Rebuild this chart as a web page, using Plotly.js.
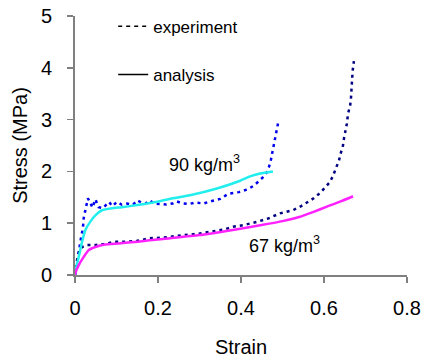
<!DOCTYPE html>
<html>
<head>
<meta charset="utf-8">
<script src="https://cdn.plot.ly/plotly-3.0.1.min.js"></script>
<style>html,body{margin:0;padding:0;background:#fff;}#chart{width:425px;height:363px;}</style>
</head>
<body>
<div id="chart"></div>
<script>
// 90 kg/m3 experiment
var exp90X = [0,0.003,0.007,0.010,0.015,0.019,0.021,0.025,0.031,0.036,0.042,0.049,0.057,0.067,0.075,0.082,0.090,0.101,0.112,0.125,0.140,0.150,0.160,0.170,0.181,0.190,0.205,0.220,0.235,0.245,0.260,0.275,0.290,0.310,0.330,0.350,0.370,0.395,0.415,0.430,0.440,0.452,0.462,0.468,0.472,0.476,0.479,0.482,0.486,0.490];
var exp90Y = [0,0.16,0.35,0.54,0.74,0.90,1.10,1.25,1.48,1.41,1.30,1.46,1.31,1.29,1.35,1.41,1.33,1.41,1.36,1.38,1.36,1.44,1.40,1.38,1.44,1.38,1.37,1.36,1.38,1.42,1.38,1.37,1.40,1.38,1.43,1.47,1.57,1.60,1.65,1.72,1.79,1.88,1.98,2.10,2.22,2.40,2.52,2.62,2.80,2.96];
// 90 kg/m3 analysis
var ana90X = [0,0.001,0.005,0.009,0.017,0.025,0.037,0.049,0.065,0.089,0.113,0.150,0.181,0.230,0.277,0.342,0.398,0.420,0.446,0.477];
var ana90Y = [0,0.06,0.22,0.35,0.64,0.87,1.03,1.15,1.25,1.29,1.31,1.35,1.39,1.47,1.54,1.67,1.82,1.90,1.96,2.00];
// 67 kg/m3 experiment
var exp67X = [0,0.002,0.005,0.010,0.017,0.029,0.050,0.070,0.096,0.120,0.150,0.180,0.210,0.240,0.270,0.300,0.330,0.360,0.380,0.410,0.440,0.465,0.494,0.525,0.545,0.559,0.575,0.590,0.605,0.614,0.622,0.629,0.636,0.641,0.645,0.648,0.652,0.655,0.658,0.663,0.665,0.666,0.668,0.669,0.672];
var exp67Y = [0,0.12,0.29,0.45,0.54,0.58,0.58,0.60,0.64,0.64,0.66,0.71,0.72,0.75,0.77,0.80,0.84,0.88,0.93,0.97,1.03,1.09,1.19,1.25,1.33,1.40,1.48,1.58,1.70,1.79,1.92,2.07,2.21,2.37,2.46,2.63,2.79,2.92,3.12,3.27,3.42,3.62,3.79,3.94,4.13];
// 67 kg/m3 analysis
var ana67X = [0,0.001,0.009,0.021,0.033,0.049,0.072,0.105,0.150,0.180,0.230,0.300,0.380,0.446,0.500,0.540,0.575,0.607,0.640,0.670];
var ana67Y = [0,0.04,0.19,0.35,0.48,0.54,0.59,0.61,0.64,0.67,0.71,0.77,0.87,0.96,1.04,1.12,1.22,1.32,1.42,1.52];

var xTicks = [0,0.2,0.4,0.6,0.8];
var xTickText = ['0','0.2','0.4','0.6','0.8'];
var yTicks = [0,1,2,3,4,5];
var legendNames = ['experiment','analysis'];
var labels = ['90 kg/m<sup>3</sup>','67 kg/m<sup>3</sup>'];
var labelX = [0.222,0.414];
var labelY = [2.15,0.58];

var FONT = 'Liberation Sans, Arial, sans-serif';
var traces = [
  {x:exp90X,y:exp90Y,mode:'lines',line:{color:'#0000ee',width:2.5,dash:'3px,4px'},showlegend:false},
  {x:exp67X,y:exp67Y,mode:'lines',line:{color:'#000080',width:2.5,dash:'3px,4px'},showlegend:false},
  {x:ana90X,y:ana90Y,mode:'lines',line:{color:'#22eeee',width:2.5,shape:'spline',smoothing:0.6},showlegend:false},
  {x:ana67X,y:ana67Y,mode:'lines',line:{color:'#ff22ff',width:2.5,shape:'spline',smoothing:0.6},showlegend:false},
  {x:[null],y:[null],mode:'lines',name:legendNames[0],legendgroup:'a',line:{color:'#000',width:1.5,dash:'4px,4px'}},
  {x:[null],y:[null],mode:'lines',name:legendNames[1],legendgroup:'b',line:{color:'#000',width:1.5}}
];
var layout = {
  width:425,height:363,
  margin:{l:75,r:18,t:16,b:88,autoexpand:false},
  paper_bgcolor:'#fff',plot_bgcolor:'#fff',
  font:{family:FONT,size:20,color:'#000'},
  showlegend:true,
  legend:{x:0.115,y:1.028,xanchor:'left',yanchor:'top',traceorder:'grouped',tracegroupgap:23,font:{size:17,family:FONT},bgcolor:'rgba(0,0,0,0)'},
  xaxis:{range:[0,0.8],tickvals:xTicks,ticktext:xTickText,ticks:'outside',ticklen:6,tickwidth:1.5,tickcolor:'#808080',
         ticklabelstandoff:8,
         showline:true,linecolor:'#808080',linewidth:2,showgrid:false,zeroline:false,
         title:{text:'Strain',font:{size:20,family:FONT},standoff:22},tickfont:{size:20,family:FONT}},
  yaxis:{range:[0,5],tickvals:yTicks,ticks:'outside',ticklen:6,tickwidth:1.5,tickcolor:'#808080',
         ticklabelstandoff:11,
         showline:true,linecolor:'#808080',linewidth:2,showgrid:false,zeroline:false,
         title:{text:'Stress (MPa)',font:{size:20,family:FONT},standoff:8},tickfont:{size:20,family:FONT}},
  annotations:[
    {x:labelX[0],y:labelY[0],xref:'x',yref:'y',text:labels[0],showarrow:false,xanchor:'left',font:{size:18,family:FONT}},
    {x:labelX[1],y:labelY[1],xref:'x',yref:'y',text:labels[1],showarrow:false,xanchor:'left',yanchor:'middle',font:{size:18,family:FONT}}
  ]
};
Plotly.newPlot('chart',traces,layout,{displayModeBar:false,staticPlot:true});
</script>
</body>
</html>
